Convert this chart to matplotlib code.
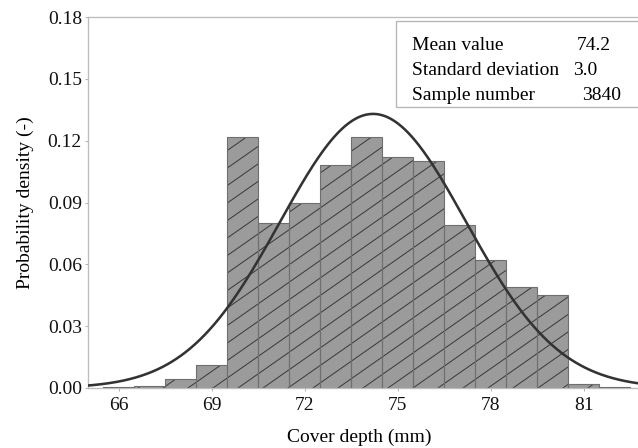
import matplotlib
matplotlib.use("Agg")
import matplotlib.pyplot as plt
import numpy as np
from matplotlib.collections import LineCollection
from matplotlib.patches import PathPatch, Rectangle
from matplotlib.path import Path

# histogram of cover depth, bins 1 mm wide (left edges) and density per bin
bin_left = [65.5, 66.5, 67.5, 68.5, 69.5, 70.5, 71.5, 72.5, 73.5,
            74.5, 75.5, 76.5, 77.5, 78.5, 79.5, 80.5, 81.5]
density = [0.0005, 0.001, 0.0045, 0.011, 0.122, 0.080, 0.090, 0.108, 0.122,
           0.112, 0.110, 0.079, 0.062, 0.049, 0.045, 0.002, 0.0005]

mean_value = 74.2
std_dev = 3.0
sample_number = 3840

x_ticks = [66, 69, 72, 75, 78, 81]
y_ticks = [0.00, 0.03, 0.06, 0.09, 0.12, 0.15, 0.18]

plt.rcParams["font.family"] = ["Liberation Serif", "DejaVu Serif"]

FS = 17.5
DPI = 80
AX_W, AX_H = 550, 371  # axes size in pixels
fig = plt.figure(figsize=(638 / DPI, 448 / DPI), dpi=DPI)
ax = fig.add_axes([88 / 638, 60 / 448, AX_W / 638, AX_H / 448])

# fill first, then hatching, then the outlines on top
bars = ax.bar(bin_left, density, width=1.0, align="edge",
              facecolor="#9b9b9b", edgecolor="none", linewidth=0, zorder=2)
ax.bar(bin_left, density, width=1.0, align="edge",
       facecolor="none", edgecolor="#6f6f6f", linewidth=1.0, zorder=3)

# hatching: shallow diagonal lines (not 45 deg), clipped to the bars
slope, gap = 0.7, 17.5
offsets = np.arange(-AX_W * slope, AX_H + gap, gap)
segs = [[(0, c / AX_H), (1, (c + AX_W * slope) / AX_H)] for c in offsets]
verts, codes = [], []
for rect in bars:
    x0, y0 = rect.get_x(), rect.get_y()
    x1, y1 = x0 + rect.get_width(), y0 + rect.get_height()
    verts += [(x0, y0), (x1, y0), (x1, y1), (x0, y1), (x0, y0)]
    codes += [Path.MOVETO, Path.LINETO, Path.LINETO, Path.LINETO, Path.CLOSEPOLY]
clip = PathPatch(Path(verts, codes), transform=ax.transData, facecolor="none", edgecolor="none")
ax.add_patch(clip)
hatch = LineCollection(segs, colors="#3a3a3a", linewidths=0.9, transform=ax.transAxes, zorder=2.5)
ax.add_collection(hatch)
hatch.set_clip_path(clip)

xs = np.linspace(64.5, 83.5, 500)
pdf = np.exp(-0.5 * ((xs - mean_value) / std_dev) ** 2) / (std_dev * np.sqrt(2 * np.pi))
ax.plot(xs, pdf, color="#333333", linewidth=2.3, zorder=4)

ax.set_xlim(65, 82.75)
ax.set_ylim(0, 0.18)
ax.set_xticks(x_ticks)
ax.set_yticks(y_ticks)
ax.set_yticklabels([f"{v:.2f}" for v in y_ticks])
ax.tick_params(labelsize=FS, length=3, width=0.8, color="#aaaaaa", labelcolor="#111111")
ax.tick_params(axis="x", pad=5)
ax.tick_params(axis="y", pad=2.5)
for side in ("left", "bottom", "top"):
    ax.spines[side].set_color("#bdbdbd")
    ax.spines[side].set_linewidth(1.2)
ax.spines["right"].set_visible(False)

ax.set_xlabel("Cover depth (mm)", fontsize=FS, va="center")
ax.xaxis.set_label_coords(0.5 - 4 / AX_W, -49 / AX_H)
ax.set_ylabel("Probability density (-)", fontsize=FS, va="center")
ax.yaxis.set_label_coords(-63 / AX_W, 0.5)

# statistics box, running off the right edge like the original
fig.patches.append(Rectangle((396 / 638, (448 - 107) / 448), 250 / 638, 86 / 448,
                             transform=fig.transFigure, facecolor="white",
                             edgecolor="#b5b5b5", linewidth=1.2, zorder=5))
rows = [("Mean value", f"{mean_value:.1f}", 577),
        ("Standard deviation", f"{std_dev:.1f}", 573),
        ("Sample number", f"{sample_number}", 582)]
for i, (label, value, vx) in enumerate(rows):
    yy = (448 - (50 + 25 * i)) / 448
    fig.text(412 / 638, yy, label, fontsize=FS, va="baseline", ha="left", zorder=6)
    fig.text(vx / 638, yy, value, fontsize=FS, va="baseline", ha="left", zorder=6)

fig.savefig("out.png", dpi=DPI)
